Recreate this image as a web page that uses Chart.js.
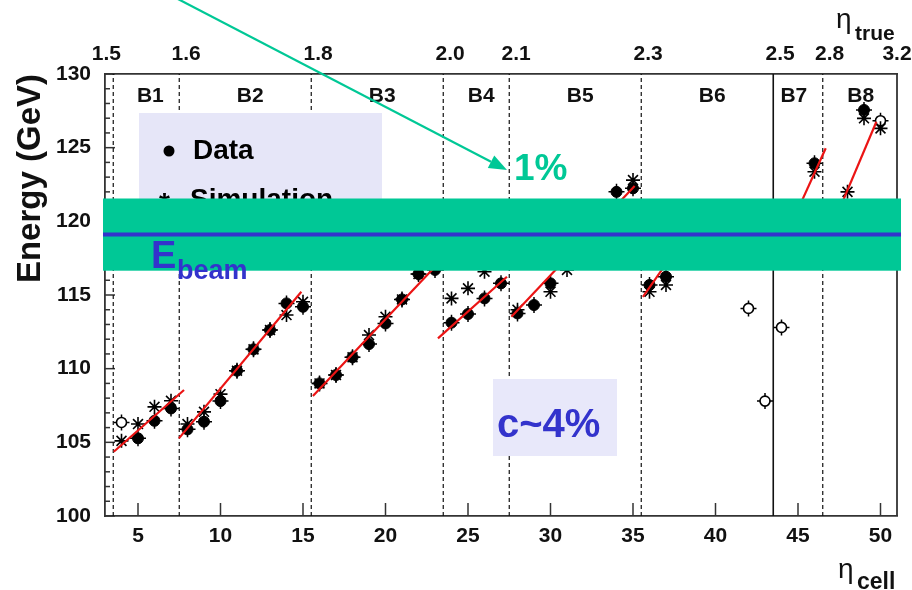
<!DOCTYPE html>
<html lang="en">
<head>
<meta charset="UTF-8">
<title>Energy vs eta cell</title>
<script src="https://cdn.jsdelivr.net/npm/chart.js"></script>
<style>
  body { margin: 0; background: #fff; }
  #wrap { width: 912px; height: 590px; }
</style>
</head>
<body>
<div id="wrap"><canvas id="grafico" width="912" height="590"></canvas></div>
<script>
// measured points (filled dots)
const dataX = [5, 6, 7, 8, 9, 10, 11, 12, 13, 14, 15, 16, 17, 18, 19, 20, 21, 22, 23, 24, 25, 26, 27, 28, 29, 30, 34, 35, 36, 37, 46, 49];
const dataE = [105.27, 106.46, 107.3, 105.88, 106.4, 107.8, 109.86, 111.31, 112.62, 114.43, 114.2, 109.0, 109.57, 110.77, 111.67, 113.07, 114.7, 116.42, 116.7, 113.12, 113.71, 114.77, 115.79, 113.75, 114.32, 115.79, 122.0, 122.24, 115.68, 116.24, 123.94, 127.56];

// simulation (stars)
const simX = [4, 5, 6, 7, 8, 9, 10, 11, 12, 13, 14, 15, 16, 17, 18, 19, 20, 21, 22, 24, 25, 26, 28, 30, 31, 35, 36, 37, 46, 48, 49, 50];
const simE = [105.1, 106.24, 107.41, 107.82, 106.24, 107.07, 108.27, 109.86, 111.31, 112.62, 113.64, 114.54, 109.0, 109.57, 110.77, 112.28, 113.52, 114.7, 116.42, 114.77, 115.45, 116.58, 114.0, 115.22, 116.7, 122.8, 115.22, 115.68, 123.37, 122.0, 126.99, 126.31];

// points left out of the fits (open circles)
const openX = [4, 42, 43, 44, 50];
const openE = [106.35, 114.09, 107.8, 112.8, 126.83];

// straight-line fits per bin: start and end
const fitX0 = [3.53, 7.48, 15.6, 23.18, 27.63, 35.6, 44.5, 47.0];
const fitE0 = [104.36, 105.27, 108.14, 112.06, 113.52, 114.88, 119.57, 119.47];
const fitX1 = [7.79, 14.9, 23.4, 27.36, 35.1, 38.5, 46.68, 49.75];
const fitE1 = [108.55, 115.22, 117.4, 116.24, 122.4, 119.5, 124.96, 126.76];

// bin borders in eta_cell
const bordas = [3.5, 7.5, 15.5, 23.5, 27.5, 35.5, 43.5, 46.5];
const bordaSolida = [false, false, false, false, false, false, true, false];
const binLabels = ['B1', 'B2', 'B3', 'B4', 'B5', 'B6', 'B7', 'B8'];
const binLabelX = [5.75, 11.8, 19.8, 25.8, 31.8, 39.8, 44.75, 48.8];

// eta_true scale along the top
const etaTruePos = [3.08, 7.92, 15.92, 23.92, 27.92, 35.92, 43.92, 46.92, 51];
const etaTrueLabels = ['1.5', '1.6', '1.8', '2.0', '2.1', '2.3', '2.5', '2.8', '3.2'];

const xTicks = [5, 10, 15, 20, 25, 30, 35, 40, 45, 50];
const eBeam = 119.1;
const faixa = 2.45;

const AX_FONT = '"Liberation Sans Narrow", "Liberation Sans", Arial, sans-serif';
const TXT_FONT = '"Liberation Sans", Arial, sans-serif';
const VERDE = 'rgb(0, 200, 150)';
const AZUL = 'rgb(51, 51, 204)';

const pts = (xs, ys) => xs.map((v, i) => ({x: v, y: ys[i]}));

const linhasBin = bordas.map((b, i) => ({
  data: [{x: b, y: 100}, {x: b, y: 130}],
  showLine: true,
  borderColor: '#111',
  borderWidth: bordaSolida[i] ? 1.6 : 1.2,
  borderDash: bordaSolida[i] ? [] : [4, 3],
  pointRadius: 0,
  order: 20
}));

const linhasFit = fitX0.map((v, i) => ({
  data: [{x: v, y: fitE0[i]}, {x: fitX1[i], y: fitE1[i]}],
  showLine: true,
  borderColor: 'rgb(235, 20, 20)',
  borderWidth: 2.2,
  pointRadius: 0,
  order: 1
}));

// horizontal axes: fixed height, no extra side padding from the labels
const fixaX = s => { s.height = 74; s.paddingLeft = 0; s.paddingRight = 0; };

// extra drawing: inward ticks, frame, bin names, overlays
const extras = {
  id: 'extras',
  beforeDatasetsDraw(chart) {
    const {ctx, chartArea: a, scales: {x, y}} = chart;
    ctx.save();
    ctx.strokeStyle = '#333';
    ctx.lineWidth = 1.5;
    for (let v = 100; v <= 130; v++) {
      const py = y.getPixelForValue(v);
      const len = v % 5 === 0 ? 10 : 5;
      ctx.beginPath(); ctx.moveTo(a.left, py); ctx.lineTo(a.left + len, py); ctx.stroke();
    }
    xTicks.forEach(v => {
      const px = x.getPixelForValue(v);
      ctx.beginPath(); ctx.moveTo(px, a.bottom); ctx.lineTo(px, a.bottom - 13); ctx.stroke();
    });
    ctx.lineWidth = 1.8;
    ctx.beginPath(); ctx.moveTo(a.right, a.top); ctx.lineTo(a.right, a.bottom); ctx.stroke();

    ctx.fillStyle = '#111';
    ctx.font = 'bold 21px ' + AX_FONT;
    ctx.textAlign = 'center';
    ctx.textBaseline = 'middle';
    binLabels.forEach((t, i) => ctx.fillText(t, x.getPixelForValue(binLabelX[i]), 96));
    ctx.restore();
  },
  afterDatasetsDraw(chart) {
    const {ctx, chartArea: a, scales: {x, y}} = chart;
    ctx.save();

    // legend box
    ctx.fillStyle = 'rgb(230, 230, 248)';
    ctx.fillRect(139, 113, 243, 100);
    ctx.fillStyle = '#000';
    ctx.beginPath(); ctx.arc(169, 151, 5.5, 0, Math.PI * 2); ctx.fill();
    ctx.font = 'bold 28px ' + TXT_FONT;
    ctx.textAlign = 'left';
    ctx.textBaseline = 'alphabetic';
    ctx.fillText('Data', 193, 159);
    ctx.fillText('*', 159, 212);
    ctx.fillText('Simulation', 190, 208);

    // constant-term box
    ctx.fillStyle = 'rgb(232, 232, 250)';
    ctx.fillRect(493, 379, 124, 77);
    ctx.fillStyle = AZUL;
    ctx.font = 'bold 40px ' + TXT_FONT;
    ctx.fillText('c~4%', 497, 437);

    // beam energy band
    const yTop = y.getPixelForValue(eBeam + faixa);
    const yBot = y.getPixelForValue(eBeam - faixa);
    ctx.fillStyle = VERDE;
    ctx.fillRect(a.left - 2, yTop, a.right - a.left + 6, yBot - yTop);
    ctx.strokeStyle = AZUL;
    ctx.lineWidth = 4;
    const yb = y.getPixelForValue(eBeam);
    ctx.beginPath(); ctx.moveTo(a.left - 2, yb); ctx.lineTo(a.right + 4, yb); ctx.stroke();

    ctx.fillStyle = AZUL;
    ctx.font = 'bold 38px ' + TXT_FONT;
    ctx.fillText('E', 151, 268);
    ctx.font = 'bold 27px ' + TXT_FONT;
    ctx.fillText('beam', 177, 279);

    // arrow to the 1% label
    const x0 = 176, y0 = -2, xt = 507, yt = 170;
    const L = Math.hypot(xt - x0, yt - y0);
    const ux = (xt - x0) / L, uy = (yt - y0) / L;
    const bx = xt - 18 * ux, by = yt - 18 * uy;
    ctx.strokeStyle = VERDE;
    ctx.lineWidth = 2.2;
    ctx.beginPath(); ctx.moveTo(x0, y0); ctx.lineTo(bx, by); ctx.stroke();
    ctx.fillStyle = VERDE;
    ctx.beginPath();
    ctx.moveTo(xt, yt);
    ctx.lineTo(bx - 7 * uy, by + 7 * ux);
    ctx.lineTo(bx + 7 * uy, by - 7 * ux);
    ctx.closePath(); ctx.fill();
    ctx.font = 'bold 37px ' + TXT_FONT;
    ctx.fillText('1%', 514, 180);
    ctx.restore();
  },
  afterDraw(chart) {
    const {ctx} = chart;
    ctx.save();
    ctx.fillStyle = '#111';
    ctx.textAlign = 'left';
    ctx.textBaseline = 'alphabetic';
    ctx.font = '28px ' + TXT_FONT;
    ctx.fillText('\u03b7', 836, 28);
    ctx.fillText('\u03b7', 838, 578);
    ctx.font = 'bold 21px ' + TXT_FONT;
    ctx.fillText('true', 855, 40);
    ctx.font = 'bold 23px ' + TXT_FONT;
    ctx.fillText('cell', 857, 589);
    ctx.restore();
  }
};

const ctx = document.getElementById('grafico').getContext('2d');
new Chart(ctx, {
  type: 'scatter',
  data: {
    datasets: [
      ...linhasBin,
      // error bars under the markers
      {
        data: pts(dataX.concat(openX), dataE.concat(openE)),
        pointStyle: 'cross', pointRadius: 8, borderColor: '#000', borderWidth: 1.5, order: 12
      },
      {
        data: pts(openX, openE),
        pointStyle: 'circle', pointRadius: 5, backgroundColor: '#fff', borderColor: '#000', borderWidth: 1.6, order: 10
      },
      {
        data: pts(simX, simE),
        pointStyle: 'star', pointRadius: 7, borderColor: '#000', borderWidth: 1.6, order: 9
      },
      {
        data: pts(dataX, dataE),
        pointStyle: 'circle', pointRadius: 5.5, backgroundColor: '#000', borderColor: '#000', borderWidth: 1, order: 8
      },
      ...linhasFit
    ]
  },
  options: {
    responsive: false,
    animation: false,
    events: [],
    layout: { padding: { left: 0, right: 15, top: 0, bottom: 0 } },
    plugins: { legend: { display: false }, tooltip: { enabled: false } },
    scales: {
      x: {
        type: 'linear', position: 'bottom', min: 3, max: 51,
        afterBuildTicks: s => { s.ticks = xTicks.map(v => ({value: v})); },
        afterFit: fixaX,
        grid: { drawOnChartArea: false, drawTicks: false },
        border: { display: true, color: '#333', width: 1.8 },
        ticks: { padding: 8, color: '#111', font: { family: AX_FONT, size: 21, weight: 'bold' }, maxRotation: 0 }
      },
      xTop: {
        type: 'linear', position: 'top', min: 3, max: 51,
        afterBuildTicks: s => { s.ticks = etaTruePos.map(v => ({value: v})); },
        afterFit: fixaX,
        grid: { drawOnChartArea: false, drawTicks: false },
        border: { display: true, color: '#333', width: 1.8 },
        ticks: {
          padding: 7, color: '#111', maxRotation: 0, autoSkip: false,
          font: { family: AX_FONT, size: 21, weight: 'bold' },
          callback: (v, i) => etaTrueLabels[i]
        }
      },
      y: {
        type: 'linear', position: 'left', min: 100, max: 130,
        afterFit: s => { s.width = 105; },
        grid: { drawOnChartArea: false, drawTicks: false },
        border: { display: true, color: '#333', width: 1.8 },
        ticks: { stepSize: 5, padding: 14, color: '#111', font: { family: AX_FONT, size: 21, weight: 'bold' } },
        title: {
          display: true, text: 'Energy (GeV)', align: 'end', color: '#111',
          padding: { top: 11, bottom: 0 },
          font: { family: TXT_FONT, size: 33, weight: 'bold' }
        }
      }
    }
  },
  plugins: [extras]
});
</script>
</body>
</html>
